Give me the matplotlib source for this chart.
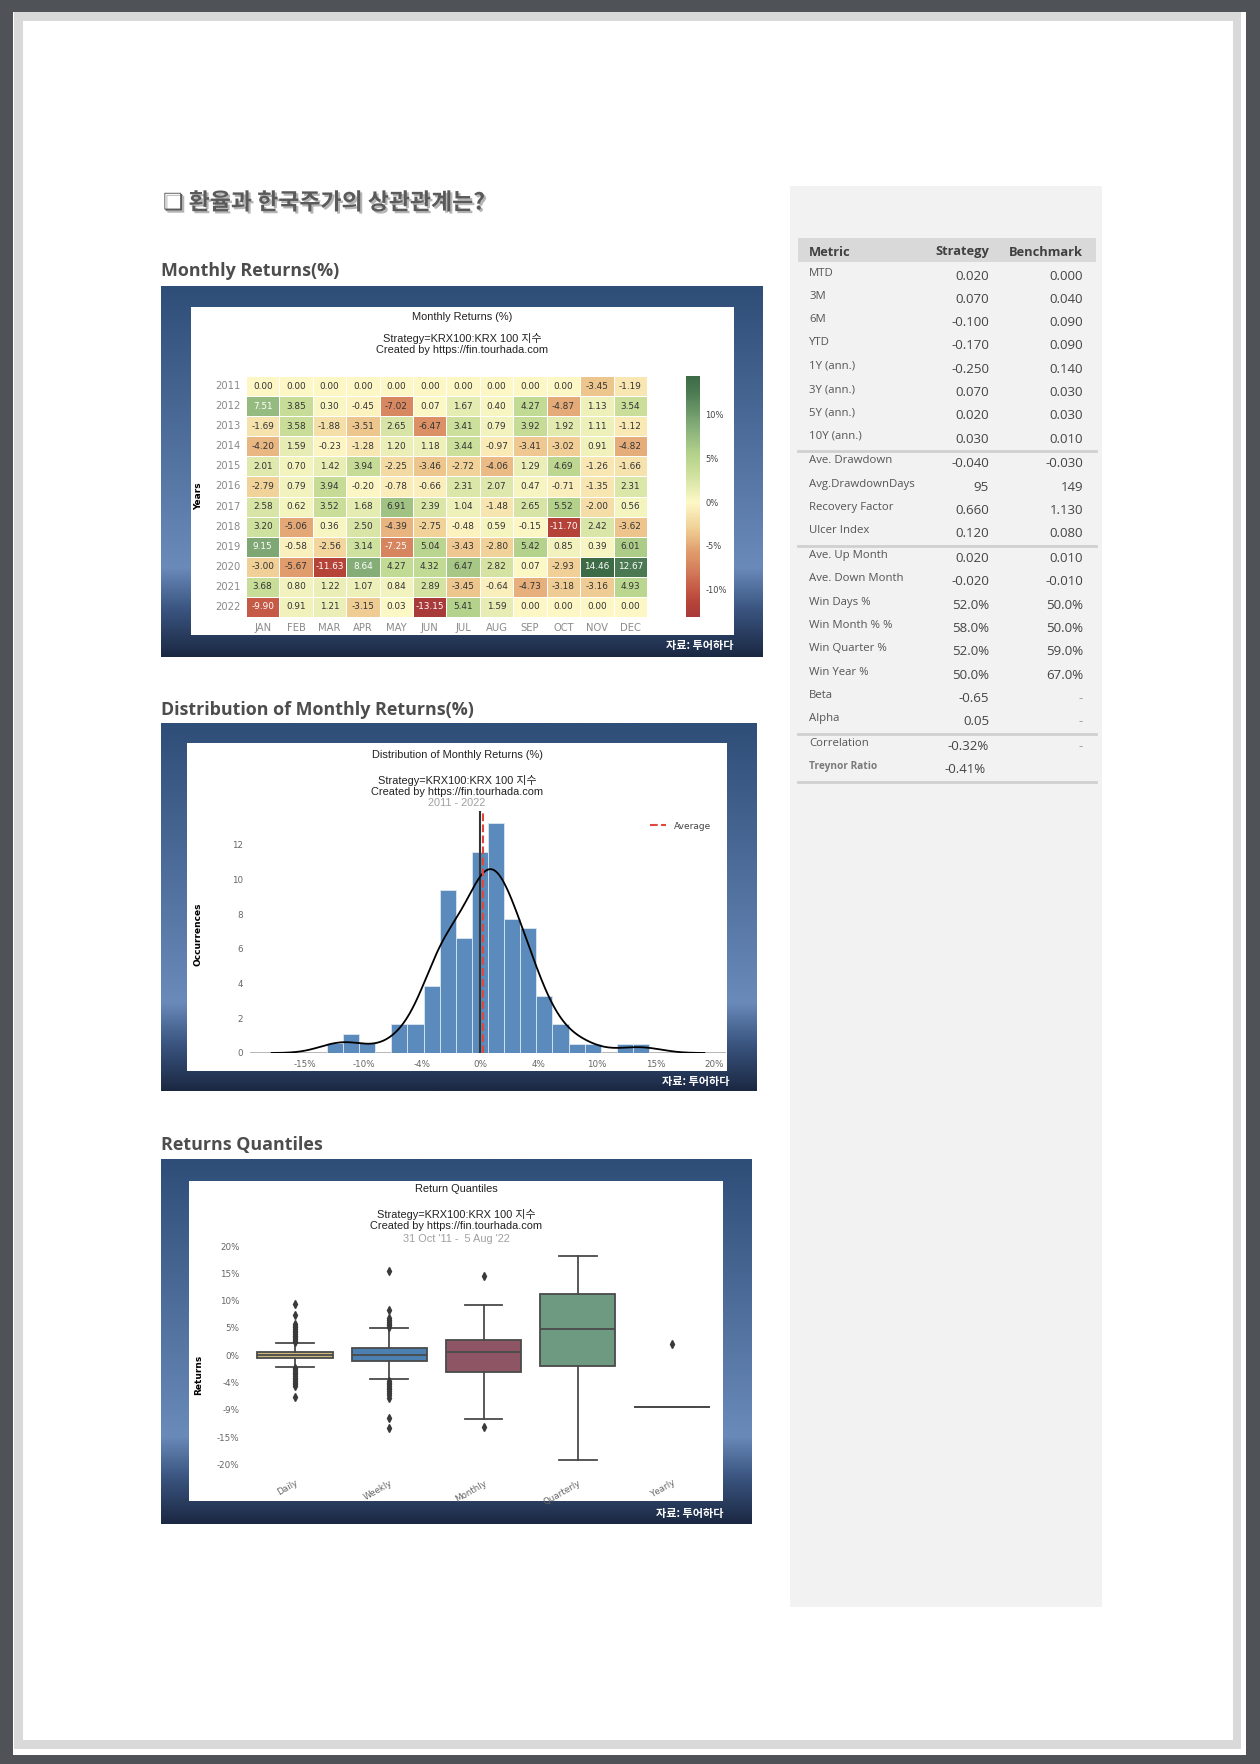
import numpy as np
import pandas as pd
import seaborn as sns
import matplotlib.pyplot as plt
import matplotlib.patheffects as pe
from matplotlib.colors import LinearSegmentedColormap
from matplotlib.patches import Rectangle

W, H = 1260, 1764
CHART_FONT = ['DejaVu Sans', 'Noto Sans CJK KR']
TITLE_FONT = ['Liberation Sans', 'Noto Sans CJK KR', 'DejaVu Sans']
KOR_FONT = ['Noto Sans CJK KR', 'DejaVu Sans']
plt.rcParams['font.family'] = CHART_FONT

# ---- data ----
years = [str(y) for y in range(2011, 2023)]
months = ['JAN', 'FEB', 'MAR', 'APR', 'MAY', 'JUN', 'JUL', 'AUG', 'SEP', 'OCT', 'NOV', 'DEC']
monthly = [
    [0.00, 0.00, 0.00, 0.00, 0.00, 0.00, 0.00, 0.00, 0.00, 0.00, -3.45, -1.19],
    [7.51, 3.85, 0.30, -0.45, -7.02, 0.07, 1.67, 0.40, 4.27, -4.87, 1.13, 3.54],
    [-1.69, 3.58, -1.88, -3.51, 2.65, -6.47, 3.41, 0.79, 3.92, 1.92, 1.11, -1.12],
    [-4.20, 1.59, -0.23, -1.28, 1.20, 1.18, 3.44, -0.97, -3.41, -3.02, 0.91, -4.82],
    [2.01, 0.70, 1.42, 3.94, -2.25, -3.46, -2.72, -4.06, 1.29, 4.69, -1.26, -1.66],
    [-2.79, 0.79, 3.94, -0.20, -0.78, -0.66, 2.31, 2.07, 0.47, -0.71, -1.35, 2.31],
    [2.58, 0.62, 3.52, 1.68, 6.91, 2.39, 1.04, -1.48, 2.65, 5.52, -2.00, 0.56],
    [3.20, -5.06, 0.36, 2.50, -4.39, -2.75, -0.48, 0.59, -0.15, -11.70, 2.42, -3.62],
    [9.15, -0.58, -2.56, 3.14, -7.25, 5.04, -3.43, -2.80, 5.42, 0.85, 0.39, 6.01],
    [-3.00, -5.67, -11.63, 8.64, 4.27, 4.32, 6.47, 2.82, 0.07, -2.93, 14.46, 12.67],
    [3.68, 0.80, 1.22, 1.07, 0.84, 2.89, -3.45, -0.64, -4.73, -3.18, -3.16, 4.93],
    [-9.90, 0.91, 1.21, -3.15, 0.03, -13.15, 5.41, 1.59, 0.00, 0.00, 0.00, 0.00],
]
# muted red-yellow-green scale as it appears in the picture (value -> colour)
heat_anchor_vals = [-13.15, -11.63, -9.90, -7.25, -5.67, -3.00, 0.00, 3.68, 5.42, 8.64, 12.67, 14.46]
heat_anchor_cols = ['#a83a3a', '#b54338', '#c55a47', '#d7865f', '#e09c6c', '#f0d096', '#fdf8c7',
                    '#c8dd98', '#b5d38c', '#86ae79', '#4b7a52', '#3d6b45']

# histogram (20 bins between min and max monthly return)
hist_heights = [0.58, 1.08, 0.58, 0.0, 1.65, 1.65, 3.85, 9.4, 6.64, 11.6,
                13.28, 7.74, 7.18, 3.29, 1.65, 0.54, 0.54, 0.0, 0.54, 0.54]
avg_return = 0.23
hist_xticks = [-15, -10, -5, 0, 5, 10, 15, 20]
hist_xlabels = ['-15%', '-10%', '-4%', '0%', '4%', '10%', '15%', '20%']

# return quantiles
periods = ['Daily', 'Weekly', 'Monthly', 'Quarterly', 'Yearly']
q_med = [0.05, 0.12, 0.62, 4.86, -9.5]
q_q1 = [-0.49, -0.98, -3.0, -1.9, -9.5]
q_q3 = [0.62, 1.42, 2.83, 11.26, -9.5]
q_lo = [-2.1, -4.4, -11.6, -19.1, -9.5]
q_hi = [2.2, 4.9, 9.2, 18.15, -9.5]
q_fliers = [
    [2.4, 2.7, 3.0, 3.3, 3.6, 3.9, 4.2, 4.5, 4.8, 5.1, 5.4, 5.8, 7.3, 9.3,
     -2.3, -2.6, -2.9, -3.2, -3.5, -3.8, -4.1, -4.4, -4.7, -5.0, -5.3, -5.7, -7.6],
    [5.2, 5.5, 5.8, 6.1, 6.4, 6.8, 8.2, 15.4,
     -4.7, -5.0, -5.3, -5.6, -5.9, -6.2, -6.5, -6.9, -7.3, -7.8, -11.5, -13.3],
    [14.6, -13.1],
    [],
    [2.15],
]
q_colors = ['#cdb97c', '#4c80b0', '#8e5564', '#6f9a82', '#8a6a9a']
q_yticks = [20, 15, 10, 5, 0, -5, -10, -15, -20]
q_ylabels = ['20%', '15%', '10%', '5%', '0%', '-4%', '-9%', '-15%', '-20%']

# metrics table
metric_groups = [
    ['MTD', '3M', '6M', 'YTD', '1Y (ann.)', '3Y (ann.)', '5Y (ann.)', '10Y (ann.)'],
    ['Ave. Drawdown', 'Avg.DrawdownDays', 'Recovery Factor', 'Ulcer Index'],
    ['Ave. Up Month', 'Ave. Down Month', 'Win Days %', 'Win Month % %', 'Win Quarter %',
     'Win Year %', 'Beta', 'Alpha'],
    ['Correlation', 'Treynor Ratio'],
]
strategy_vals = [
    ['0.020', '0.070', '-0.100', '-0.170', '-0.250', '0.070', '0.020', '0.030'],
    ['-0.040', '95', '0.660', '0.120'],
    ['0.020', '-0.020', '52.0%', '58.0%', '52.0%', '50.0%', '-0.65', '0.05'],
    ['-0.32%', '-0.41%'],
]
benchmark_vals = [
    ['0.000', '0.040', '0.090', '0.090', '0.140', '0.030', '0.030', '0.010'],
    ['-0.030', '149', '1.130', '0.080'],
    ['0.010', '-0.010', '50.0%', '50.0%', '59.0%', '67.0%', '-', '-'],
    ['-', ''],
]

# ---- page ----
fig = plt.figure(figsize=(W / 100, H / 100), dpi=100, facecolor='#4f5358')
bg = fig.add_axes([0, 0, 1, 1])
bg.set_xlim(0, W)
bg.set_ylim(H, 0)
bg.axis('off')


def rect(x0, y0, x1, y1, color, z=1):
    bg.add_patch(Rectangle((x0, y0), x1 - x0, y1 - y0, facecolor=color, edgecolor='none', zorder=z))


def px_axes(x0, y0, x1, y1):
    a = fig.add_axes([x0 / W, 1 - y1 / H, (x1 - x0) / W, (y1 - y0) / H])
    a.patch.set_alpha(0)
    return a


rect(13, 12, 1246, 1755, 'white')
rect(14, 12, 1241, 1749, '#d9d9d9')
rect(23, 21, 1233, 1740, 'white')
rect(790, 186, 1102, 1607, '#f2f2f2')

grad_cmap = LinearSegmentedColormap.from_list(
    'panel', [(0, '#2e4d77'), (0.76, '#6a8aba'), (0.87, '#3b5681'), (1, '#1b2843')])
grad = np.linspace(0, 1, 256).reshape(-1, 1)


def panel(outer, inner, credit_xy):
    x0, y0, x1, y1 = outer
    bg.imshow(grad, cmap=grad_cmap, extent=(x0, x1, y1, y0), aspect='auto',
              interpolation='bilinear', zorder=2)
    rect(*inner, 'white', z=3)
    bg.text(credit_xy[0], credit_xy[1], '자료: 투어하다', family=KOR_FONT, fontsize=8,
            weight='bold', color='white', ha='right', va='center', zorder=4)


panel((161, 286, 763, 657), (191, 307, 734, 635), (733, 646))
panel((161, 723, 757, 1091), (187, 743, 727, 1071), (729, 1081))
panel((161, 1159, 752, 1524), (189, 1181, 723, 1501), (724, 1513))
bg.set_xlim(0, W)
bg.set_ylim(H, 0)

# headings
bg.text(163, 203, '❏ 환율과 한국주가의 상관관계는?', family=KOR_FONT, fontsize=16.5, weight='bold',
        color='#5a5a5a', va='center', zorder=4,
        path_effects=[pe.SimplePatchShadow(offset=(1.5, -1.5), shadow_rgbFace='#b5b5b5', alpha=1),
                      pe.Normal()])
for txt, y in [('Monthly Returns(%)', 271), ('Distribution of Monthly Returns(%)', 710),
               ('Returns Quantiles', 1145)]:
    bg.text(161, y, txt, family=['Open Sans', 'DejaVu Sans'], fontsize=12.9, weight='bold',
            color='#4d4d4d', va='center', zorder=4)


def chart_titles(cx, title, y_title, y_sub, extra=None):
    bg.text(cx, y_title, title, family=TITLE_FONT, fontsize=7.9, color='#222', ha='center',
            va='center', zorder=4)
    bg.text(cx, y_sub, 'Strategy=KRX100:KRX 100 지수\nCreated by https://fin.tourhada.com',
            family=TITLE_FONT, fontsize=7.9, color='#222', ha='center', va='center',
            linespacing=1.05, zorder=4)
    if extra:
        bg.text(cx, extra[1], extra[0], family=TITLE_FONT, fontsize=7.9, color='#a0a0a0',
                ha='center', va='center', zorder=4)


# ---- heatmap ----
chart_titles(462, 'Monthly Returns (%)', 317, 344)
hax = px_axes(246, 376, 647, 617)
cax = px_axes(686, 376, 700, 617)
df = pd.DataFrame(monthly, index=years, columns=months)
lo, hi = df.values.min(), df.values.max()
heat_cmap = LinearSegmentedColormap.from_list(
    'muted', [((v - lo) / (hi - lo), c) for v, c in zip(heat_anchor_vals, heat_anchor_cols)])
sns.heatmap(df, ax=hax, cbar_ax=cax, annot=True, fmt='.2f', cmap=heat_cmap, vmin=lo, vmax=hi,
            linewidths=0.7, linecolor='white', annot_kws={'size': 6.4})
for t in hax.texts:
    t.set_color('white' if abs(float(t.get_text())) >= 7.2 else '#333333')
hax.tick_params(length=0, labelsize=7.2, labelcolor='#8a8a8a', pad=4)
hax.set_yticklabels(years, rotation=0)
hax.set_xticklabels(months, rotation=0)
hax.set_xlabel('')
hax.set_ylabel('')
cax.set_yticks([10, 5, 0, -5, -10])
cax.set_yticklabels(['10%', '5%', '0%', '-5%', '-10%'])
cax.tick_params(length=0, labelsize=6, labelcolor='#444', pad=4)
for s in cax.spines.values():
    s.set_visible(False)
bg.text(199, 496, 'Years', rotation=90, fontsize=6.5, weight='bold', ha='center', va='center',
        zorder=4)

# ---- histogram ----
chart_titles(457, 'Distribution of Monthly Returns (%)', 755, 786, ('2011 - 2022', 803))
vals = np.array(monthly).ravel()
real = vals[10:12 * 11 + 8]
edges = np.linspace(vals.min(), vals.max(), len(hist_heights) + 1)
bw = edges[1] - edges[0]
ax2 = px_axes(250, 811, 726, 1053)
ax2.bar(edges[:-1], hist_heights, width=bw, align='edge', color='#5b8bbd',
        edgecolor='#dde6f0', linewidth=0.6, zorder=2)
kbw = real.std(ddof=1) * len(real) ** (-0.2)
xs = np.linspace(real.min() - 3 * kbw, real.max() + 3 * kbw, 300)
dens = np.exp(-0.5 * ((xs[:, None] - real[None, :]) / kbw) ** 2).sum(1) / (len(real) * kbw * np.sqrt(2 * np.pi))
ax2.plot(xs, dens * sum(hist_heights) * bw, color='black', lw=1.3, zorder=4)
ax2.axhline(0, color='#b0b0b0', lw=2, zorder=1)
ax2.axvline(0, color='#333', lw=1.5, zorder=3)
ax2.axvline(avg_return, color='#e0463c', ls='--', lw=1.5, label='Average', zorder=5)
ax2.set_xlim(xs[0] - 0.05 * (xs[-1] - xs[0]), xs[-1] + 0.05 * (xs[-1] - xs[0]))
ax2.set_ylim(0, max(hist_heights) * 1.05)
ax2.set_xticks(hist_xticks)
ax2.set_xticklabels(hist_xlabels)
ax2.set_yticks(range(0, 13, 2))
ax2.tick_params(length=0, labelsize=6.3, labelcolor='#666', pad=5)
for s in ax2.spines.values():
    s.set_visible(False)
ax2.legend(loc='upper right', frameon=False, fontsize=6.5, bbox_to_anchor=(0.985, 0.99),
           handlelength=1.8, labelcolor='#444')
bg.text(198, 934, 'Occurrences', rotation=90, fontsize=6.5, weight='bold', ha='center',
        va='center', zorder=4)

# ---- box plots ----
chart_titles(456, 'Return Quantiles', 1189, 1220, ("31 Oct '11 -  5 Aug '22", 1239))
ax3 = px_axes(248, 1246, 719, 1470)
stats = []
for i, p in enumerate(periods):
    stats.append(dict(label=p, med=q_med[i], q1=q_q1[i], q3=q_q3[i], whislo=q_lo[i],
                      whishi=q_hi[i], fliers=q_fliers[i]))
bp = ax3.bxp(stats, positions=range(len(periods)), widths=0.8, patch_artist=True,
             boxprops=dict(edgecolor='#4a4a4a', linewidth=1.3),
             medianprops=dict(color='#4a4a4a', linewidth=1.3),
             whiskerprops=dict(color='#4a4a4a', linewidth=1.3),
             capprops=dict(color='#4a4a4a', linewidth=1.3),
             flierprops=dict(marker='d', markersize=4, markerfacecolor='#3a3a3a',
                             markeredgecolor='#3a3a3a'))
for patch, c in zip(bp['boxes'], q_colors):
    patch.set_facecolor(c)
ax3.set_xlim(-0.5, len(periods) - 0.5)
ax3.set_ylim(-21, 20)
ax3.set_yticks(q_yticks)
ax3.set_yticklabels(q_ylabels)
ax3.set_xticks(range(len(periods)))
ax3.set_xticklabels(periods, rotation=30, ha='right', rotation_mode='anchor')
ax3.tick_params(length=0, labelsize=6.3, labelcolor='#666', pad=6)
for s in ax3.spines.values():
    s.set_visible(False)
bg.text(199, 1375, 'Returns', rotation=90, fontsize=6.5, weight='bold', ha='center',
        va='center', zorder=4)

# ---- metrics table ----
TFONT = ['Open Sans', 'DejaVu Sans']
rect(798, 238, 1096, 262, '#d9d9d9', z=3)
bg.text(809, 252, 'Metric', family=TFONT, fontsize=9.3, weight='bold', color='#404040',
        va='center', zorder=4)
bg.text(989, 252, 'Strategy', family=TFONT, fontsize=9.3, weight='bold', color='#404040',
        ha='right', va='center', zorder=4)
bg.text(1083, 252, 'Benchmark', family=TFONT, fontsize=9.3, weight='bold', color='#404040',
        ha='right', va='center', zorder=4)
y = 276
step = 23.3
for names, svals, bvals in zip(metric_groups, strategy_vals, benchmark_vals):
    for name, sv, bv in zip(names, svals, bvals):
        bold = name == 'Treynor Ratio'
        bg.text(809, y - 3, name, family=TFONT, fontsize=7.3 if bold else 8.2,
                weight='bold' if bold else 'normal', color='#7a7a7a' if bold else '#555',
                va='center', zorder=4)
        bg.text(989 if not bold else 986, y, sv, family=TFONT, fontsize=9.5, color='#444',
                ha='right', va='center', zorder=4)
        bg.text(1083, y, bv, family=TFONT, fontsize=9.5,
                color='#9a9a9a' if bv == '-' else '#444', ha='right', va='center', zorder=4)
        y += step
    bg.plot([798, 1096], [y - step + 12, y - step + 12], color='#d0d0d0', lw=2, zorder=4)
    y += 1.5

fig.savefig('out.png', dpi=100, facecolor=fig.get_facecolor())
